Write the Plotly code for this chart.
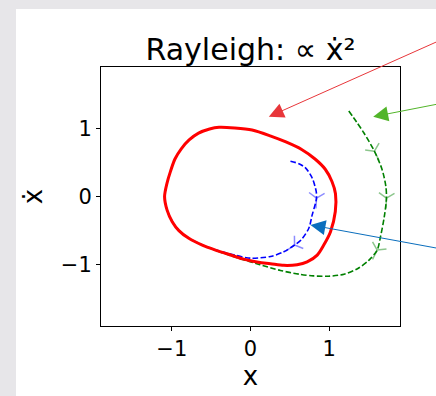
import math
import plotly.graph_objects as go

# Phase-plane data for the Rayleigh oscillator (x, x-dot)
cycle_x = [-1.092, -1.060, -1.017, -0.960, -0.880, -0.780, -0.660, -0.520, -0.400, -0.200,
           0.020, 0.250, 0.450, 0.650, 0.820, 0.950, 1.035, 1.080, 1.078, 1.017,
           0.931, 0.848, 0.720, 0.593, 0.423, 0.254, 0.100, -0.100, -0.300, -0.445,
           -0.620, -0.784, -0.910, -0.995, -1.060, -1.092]
cycle_y = [0.000, 0.200, 0.369, 0.550, 0.700, 0.830, 0.930, 0.990, 1.015, 1.005,
           0.975, 0.890, 0.800, 0.690, 0.550, 0.400, 0.220, 0.040, -0.220, -0.516,
           -0.712, -0.860, -0.959, -1.000, -1.010, -0.985, -0.965, -0.915, -0.840, -0.786,
           -0.710, -0.614, -0.500, -0.369, -0.200, 0.000]

# trajectory started inside the cycle
inner_x = [0.508, 0.615, 0.699, 0.784, 0.835, 0.839, 0.826, 0.784, 0.741, 0.645,
           0.560, 0.423, 0.254, 0.000, -0.200, -0.445, -0.620, -0.784, -0.910, -0.995,
           -1.060, -1.092, -1.060]
inner_y = [0.516, 0.482, 0.419, 0.271, 0.074, -0.024, -0.100, -0.270, -0.466, -0.635,
           -0.712, -0.811, -0.880, -0.905, -0.860, -0.782, -0.707, -0.611, -0.497, -0.366,
           -0.198, 0.000, 0.200]
inner_marks = [5, 10]

# trajectory started outside the cycle
outer_x = [1.249, 1.350, 1.440, 1.575, 1.673, 1.720, 1.728, 1.700, 1.652, 1.610,
           1.500, 1.360, 1.190, 0.990, 0.800, 0.620, 0.380, 0.120, -0.170, -0.445,
           -0.620]
outer_y = [1.254, 1.090, 0.935, 0.664, 0.394, 0.150, -0.024, -0.300, -0.590, -0.786,
           -0.940, -1.060, -1.140, -1.170, -1.165, -1.140, -1.085, -1.000, -0.900, -0.790,
           -0.713]
outer_marks = [3, 6, 9]

# pointer arrows: head (x, y) and tail (x, y) in data units
arrow_head_x = [0.233, 1.559, 0.762]
arrow_head_y = [1.171, 1.171, -0.417]
arrow_tail_x = [2.795, 2.795, 2.795]
arrow_tail_y = [2.490, 1.450, -0.848]
arrow_colors = ["#e8363a", "#52b52a", "#0a6ebd"]

X_RANGE = [-1.9, 1.9]
Y_RANGE = [-1.9, 1.9]
TICKS = [-1, 0, 1]

W, H = 436, 396
M_L, M_R, M_T, M_B = 101, 36, 67, 70
plot_w = W - M_L - M_R
plot_h = H - M_T - M_B
sx = plot_w / (X_RANGE[1] - X_RANGE[0])
sy = plot_h / (Y_RANGE[1] - Y_RANGE[0])


def headings(xs, ys, idx):
    """Marker rotation (deg, clockwise) so a 'y-down' stem follows the path."""
    out = []
    for i in idx:
        dx = (xs[i + 1] - xs[i - 1]) * sx
        dy = -(ys[i + 1] - ys[i - 1]) * sy
        out.append(math.degrees(math.atan2(-dx, dy)))
    return out


fig = go.Figure()

dash = "5.5px,2.4px"
fig.add_trace(go.Scatter(
    x=outer_x, y=outer_y, mode="lines", line_shape="spline",
    line=dict(color="#008000", width=1.6, dash=dash, smoothing=0.8), hoverinfo="skip"))
fig.add_trace(go.Scatter(
    x=inner_x, y=inner_y, mode="lines", line_shape="spline",
    line=dict(color="#0000ff", width=1.6, dash=dash, smoothing=0.8), hoverinfo="skip"))
fig.add_trace(go.Scatter(
    x=cycle_x, y=cycle_y, mode="lines", line_shape="spline",
    line=dict(color="#ff0000", width=3, smoothing=0.8), hoverinfo="skip"))

fig.add_trace(go.Scatter(
    x=[outer_x[i] for i in outer_marks], y=[outer_y[i] for i in outer_marks],
    mode="markers",
    marker=dict(symbol="y-down", size=13, angle=headings(outer_x, outer_y, outer_marks),
                line=dict(color="rgba(0,128,0,0.45)", width=1.5)),
    hoverinfo="skip"))
fig.add_trace(go.Scatter(
    x=[inner_x[i] for i in inner_marks], y=[inner_y[i] for i in inner_marks],
    mode="markers",
    marker=dict(symbol="y-down", size=13, angle=headings(inner_x, inner_y, inner_marks),
                line=dict(color="rgba(0,0,255,0.45)", width=1.5)),
    hoverinfo="skip"))

for hx, hy, tx, ty, c in zip(arrow_head_x, arrow_head_y, arrow_tail_x, arrow_tail_y, arrow_colors):
    fig.add_annotation(x=hx, y=hy, ax=tx, ay=ty, xref="x", yref="y", axref="x", ayref="y",
                       text="", showarrow=True, arrowhead=2, arrowsize=3, arrowwidth=1,
                       arrowcolor=c, standoff=0, startstandoff=0)

# white page card over the grey surround
fig.add_shape(type="rect", xref="paper", yref="paper", layer="below",
              x0=(16 - M_L) / plot_w, x1=2, y0=-1, y1=(H - M_B - 9) / plot_h,
              fillcolor="white", line_width=0)

axis_common = dict(tickvals=TICKS, ticks="outside", ticklen=4, tickwidth=1,
                   tickcolor="black", showline=True, linecolor="black", linewidth=1,
                   mirror=True, showgrid=False, zeroline=False,
                   tickfont=dict(size=21, color="black"))

fig.update_xaxes(**axis_common, range=X_RANGE,
                 title=dict(text="x", font=dict(size=26, color="black"), standoff=5))
fig.update_yaxes(**axis_common, range=Y_RANGE,
                 title=dict(text="ẋ", font=dict(size=26, color="black"), standoff=10))

fig.update_layout(
    width=W, height=H, margin=dict(l=M_L, r=M_R, t=M_T, b=M_B, autoexpand=False),
    paper_bgcolor="#e7e6e9", plot_bgcolor="white", showlegend=False,
    font=dict(family="DejaVu Sans", color="black"),
    title=dict(text="Rayleigh: ∝ ẋ²", x=(M_L + plot_w / 2) / W, xanchor="center",
               y=1 - 49 / H, yanchor="middle", font=dict(size=30, color="black")),
)

fig.write_html("out.html")
